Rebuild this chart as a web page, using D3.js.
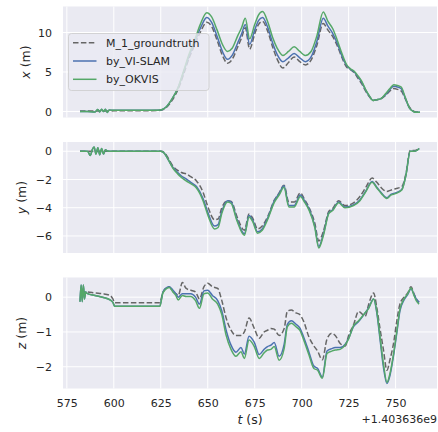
<!DOCTYPE html>
<html>
<head>
<meta charset="utf-8">
<script src="https://cdn.jsdelivr.net/npm/d3@7"></script>
<style>
  body { margin: 0; background: #fff; }
  svg text { font-family: "DejaVu Sans", sans-serif; fill: #262626; }
</style>
</head>
<body>
<div class="chart"></div>
<script>
// time offsets (s), added to 1.403636e9
const tX = [582, 586, 590, 591.5, 592.5, 593.5, 594.5, 595.5, 596.5, 597.5,
  600, 610, 620, 625, 628, 631, 634, 637, 640, 643, 646,
  649.5, 652, 655, 658, 660.5, 663, 666, 668, 670, 672.3,
  675, 677, 679.2, 682, 684.5, 687, 690, 693, 696, 699,
  702, 705, 708, 711.5, 714, 716.5, 719, 721.5, 724, 726,
  728, 730, 732, 734, 736, 738, 740, 742, 744.5, 747,
  749, 751, 753, 755, 757.5, 759.5, 761, 763];
const xGt = [0.05, 0.05, 0.05, 0.05, 0.05, 0.05, 0.05, 0.05, 0.05, 0.05,
  0.1, 0.1, 0.1, 0.15, 0.5, 1.4, 2.7, 4.6, 6.7, 8.4, 10.0,
  11.3, 10.8, 9.0, 7.0, 6.1, 6.6, 8.2, 9.3, 10.6, 7.9,
  9.8, 11.0, 11.4, 10.1, 8.2, 6.6, 5.5, 6.2, 6.9, 6.3,
  5.9, 6.5, 8.3, 11.15, 10.3, 9.5, 8.3, 6.8, 5.6, 5.3,
  4.9, 4.2, 3.5, 2.6, 1.9, 1.4, 1.5, 1.6, 2.0, 2.6,
  2.9, 2.8, 2.6, 1.7, 0.5, 0.05, -0.05, -0.05];
const xVi = [0.0, 0.0, -0.05, 0.25, -0.05, 0.3, 0.0, 0.3, -0.12, 0.2,
  0.15, 0.15, 0.15, 0.2, 0.6, 1.6, 2.9, 4.9, 7.0, 8.7, 10.5,
  11.9, 11.3, 9.5, 7.5, 6.6, 7.1, 8.7, 9.8, 11.0, 8.5,
  10.3, 11.5, 11.9, 10.6, 8.7, 7.2, 6.3, 6.8, 7.35, 6.8,
  6.3, 6.9, 8.8, 11.8, 10.8, 9.9, 8.6, 7.0, 5.8, 5.35,
  5.0, 4.4, 3.7, 2.75, 1.95, 1.4, 1.5, 1.6, 2.1, 2.8,
  3.2, 3.1, 2.9, 1.8, 0.4, 0.0, -0.1, -0.1];
const xOk = [0.0, 0.0, -0.05, 0.25, -0.05, 0.3, 0.0, 0.3, -0.12, 0.2,
  0.15, 0.15, 0.15, 0.2, 0.6, 1.6, 2.9, 5.0, 7.2, 9.0, 11.0,
  12.5, 12.0, 10.3, 8.4, 7.6, 8.0, 9.6, 10.6, 11.8, 9.2,
  11.0, 12.2, 12.65, 11.3, 9.4, 8.0, 7.1, 7.6, 8.2, 7.6,
  7.1, 7.6, 9.5, 12.6, 11.4, 10.5, 9.0, 7.3, 5.9, 5.4,
  5.1, 4.5, 3.8, 2.8, 2.0, 1.4, 1.5, 1.6, 2.2, 2.9,
  3.4, 3.3, 3.1, 1.9, 0.4, 0.0, -0.1, -0.1];

const tY = [582, 586, 587.5, 588.5, 589.5, 590.5, 591.5, 592.5, 593.5, 594.5,
  595.5, 597, 600, 610, 620, 625, 627, 629, 631.5, 634,
  636, 638.5, 641, 644, 647.5, 650, 653.6, 655.5, 657.5, 660.5,
  662.5, 665.5, 669.5, 672, 674, 676.5, 679, 682, 685.5, 688,
  690.6, 693.2, 696, 699.3, 701.5, 704, 707, 709.1, 711.5, 714.5,
  716.5, 719.7, 723, 727.6, 731, 734, 737.5, 740, 742.5, 745.3,
  747.5, 750, 753.3, 755.5, 757.8, 760.3, 762.6];
const yGt = [0, 0, 0, 0, 0, 0, 0, 0, 0, 0,
  0, 0, 0, 0, 0, 0, -0.1, -0.5, -1.05, -1.35,
  -1.5, -1.6, -1.8, -2.1, -2.9, -3.9, -4.85, -4.8, -4.0, -3.5,
  -3.55, -4.6, -5.6, -4.45, -4.75, -5.5, -5.3, -4.6, -3.45, -2.95,
  -2.4, -3.6, -3.6, -2.95, -3.4, -4.0, -5.1, -6.35, -5.7, -4.25,
  -4.05, -3.5, -3.85, -3.65, -3.2, -2.6, -1.9, -2.2, -2.6, -2.85,
  -2.75, -2.65, -2.5, -1.6, 0.05, 0.05, 0.22];
const yVi = [0.0, 0.0, -0.3, 0.1, 0.3, -0.2, 0.25, -0.25, 0.2, -0.2,
  0.1, 0.0, 0.0, 0.0, 0.0, 0.0, -0.15, -0.6, -1.15, -1.5,
  -1.75, -1.95, -2.2, -2.5, -3.35, -4.3, -5.3, -5.2, -4.25, -3.5,
  -3.6, -4.8, -5.85, -4.55, -4.9, -5.7, -5.5, -4.7, -3.5, -3.0,
  -2.45, -3.85, -3.85, -3.1, -3.5, -4.1, -5.3, -6.75, -5.9, -4.35,
  -4.15, -3.6, -3.95, -3.8, -3.45, -2.85, -2.15, -2.55, -2.95, -3.3,
  -3.05, -2.95, -2.7, -1.7, 0.0, 0.0, 0.2];
const yOk = [0.0, 0.0, -0.3, 0.1, 0.3, -0.2, 0.25, -0.25, 0.2, -0.2,
  0.1, 0.0, 0.0, 0.0, 0.0, 0.0, -0.15, -0.6, -1.2, -1.6,
  -1.85, -2.1, -2.3, -2.6, -3.5, -4.5, -5.5, -5.4, -4.4, -3.6,
  -3.7, -4.9, -5.95, -4.65, -5.0, -5.8, -5.6, -4.8, -3.6, -3.1,
  -2.55, -3.95, -3.95, -3.2, -3.6, -4.2, -5.4, -6.85, -6.0, -4.4,
  -4.2, -3.65, -4.0, -3.85, -3.5, -2.9, -2.2, -2.6, -3.0, -3.35,
  -3.1, -3.0, -2.75, -1.7, 0.0, 0.0, 0.2];

const tZ = [582, 582.6, 583.2, 583.8, 584.4, 585, 586, 590, 594, 598,
  599.5, 600.5, 610, 620, 624.5, 626, 627.5, 629.5, 631.5, 633,
  634.3, 636.5, 638.5, 641, 643.5, 645.6, 648, 650, 652.5, 655.3,
  657.5, 659.8, 662.4, 665, 667.7, 669.5, 672, 674.8, 677.4, 680,
  681.8, 683.6, 685.4, 688, 690.7, 692.4, 694.5, 697, 699, 701.1,
  703.9, 706.5, 708.5, 711, 713.5, 716, 717.9, 720.5, 723.2, 725,
  727.6, 730.3, 733.8, 735.7, 738.3, 740, 741.7, 743.5, 745.4, 747,
  749, 750.6, 752.3, 754.5, 756.5, 758.2, 759.8, 761, 762.5];
const zGt = [0.15, 0.15, 0.15, 0.15, 0.15, 0.15, 0.15, 0.12, 0.1, 0.05,
  -0.05, -0.16, -0.16, -0.16, -0.16, 0.12, 0.25, 0.3, 0.15, 0.1,
  0.05, 0.42, 0.25, 0.2, 0.15, -0.05, 0.3, 0.4, 0.3, 0.25,
  -0.1, -0.6, -0.95, -1.1, -1.1, -1.0, -0.6, -0.9, -1.18, -1.0,
  -0.95, -0.9, -0.92, -1.1, -0.9, -0.4, -0.37, -0.45, -0.5, -0.7,
  -1.15, -1.4, -1.55, -1.8, -1.2, -1.04, -1.1, -1.33, -1.4, -1.1,
  -0.8, -0.41, -0.55, -0.2, 0.12, -0.3, -0.9, -1.5, -2.1, -1.8,
  -1.3, -0.7, -0.2, 0.0, 0.12, 0.3, 0.1, -0.05, -0.15];
const zVi = [-0.13, 0.35, -0.13, 0.35, -0.05, 0.15, 0.1, 0.05, 0.0, -0.08,
  -0.15, -0.26, -0.26, -0.26, -0.26, 0.12, 0.25, 0.3, 0.2, 0.1,
  0.0, 0.1, 0.1, 0.1, 0.0, -0.2, 0.18, 0.2, 0.05, -0.1,
  -0.4, -0.95, -1.38, -1.58, -1.45, -1.63, -1.12, -1.3, -1.65, -1.5,
  -1.42, -1.38, -1.3, -1.7, -1.35, -0.78, -0.68, -0.78, -0.88, -1.15,
  -1.58, -1.98, -2.05, -2.3, -1.55, -1.48, -1.45, -1.45, -1.35, -1.18,
  -0.85, -0.7, -0.45, -0.3, -0.05, -0.45, -1.2, -2.0, -2.48, -2.25,
  -1.65, -1.05, -0.4, -0.08, 0.08, 0.24, 0.08, -0.05, -0.15];
const zOk = [-0.13, 0.35, -0.13, 0.35, -0.05, 0.15, 0.1, 0.05, 0.0, -0.08,
  -0.15, -0.26, -0.26, -0.26, -0.26, 0.1, 0.22, 0.28, 0.15, 0.05,
  -0.08, 0.05, 0.02, 0.02, -0.1, -0.32, 0.1, 0.12, -0.05, -0.2,
  -0.5, -1.1, -1.5, -1.7, -1.57, -1.76, -1.23, -1.42, -1.76, -1.6,
  -1.52, -1.5, -1.42, -1.81, -1.47, -0.85, -0.75, -0.85, -0.95, -1.23,
  -1.66, -2.05, -2.1, -2.33, -1.62, -1.55, -1.52, -1.5, -1.37, -1.2,
  -0.82, -0.68, -0.45, -0.32, -0.05, -0.4, -1.13, -1.9, -2.45, -2.2,
  -1.6, -1.0, -0.35, -0.05, 0.1, 0.26, 0.05, -0.1, -0.2];

const seriesNames = ["M_1_groundtruth", "by_VI-SLAM", "by_OKVIS"];
const xTicks = [575, 600, 625, 650, 675, 700, 725, 750];
const OFFSET_LABEL = "+1.403636e9";

const panels = [
  { axis: "x", t: tX, values: [xGt, xVi, xOk], ticks: [0, 5, 10] },
  { axis: "y", t: tY, values: [yGt, yVi, yOk], ticks: [-6, -4, -2, 0] },
  { axis: "z", t: tZ, values: [zGt, zVi, zOk], ticks: [-2, -1, 0] },
];

const WIDTH = 438;
const HEIGHT = 432;
const PLOT_LEFT = 63;
const PLOT_RIGHT = 437;
const PANEL_TOPS = [6.5, 142, 277.5];
const PANEL_HEIGHT = 111;
const BG = "#eaeaf2";
const COLORS = ["#666666", "#4c72b0", "#55a868"];

// matplotlib-style 5% margins
const padExtent = (lo, hi) => {
  const m = (hi - lo) * 0.05;
  return [lo - m, hi + m];
};

const allT = [].concat(tX, tY, tZ);
const xScale = d3.scaleLinear()
  .domain(padExtent(d3.min(allT), d3.max(allT)))
  .range([PLOT_LEFT, PLOT_RIGHT]);

const fmt = d3.format("d");

const svg = d3.select(".chart").append("svg")
  .attr("width", WIDTH)
  .attr("height", HEIGHT);

panels.forEach((p, pi) => {
  const top = PANEL_TOPS[pi];
  const bottom = top + PANEL_HEIGHT;
  const all = [].concat(...p.values);
  const yScale = d3.scaleLinear()
    .domain(padExtent(d3.min(all), d3.max(all)))
    .range([bottom, top]);

  const g = svg.append("g");

  g.append("rect")
    .attr("x", PLOT_LEFT).attr("y", top)
    .attr("width", PLOT_RIGHT - PLOT_LEFT).attr("height", PANEL_HEIGHT)
    .attr("fill", BG);

  // grid
  g.append("g").selectAll("line").data(xTicks).join("line")
    .attr("x1", d => xScale(d)).attr("x2", d => xScale(d))
    .attr("y1", top).attr("y2", bottom)
    .attr("stroke", "#fff").attr("stroke-width", 1);
  g.append("g").selectAll("line").data(p.ticks).join("line")
    .attr("x1", PLOT_LEFT).attr("x2", PLOT_RIGHT)
    .attr("y1", d => yScale(d)).attr("y2", d => yScale(d))
    .attr("stroke", "#fff").attr("stroke-width", 1);

  const clipId = "clip" + pi;
  svg.append("clipPath").attr("id", clipId).append("rect")
    .attr("x", PLOT_LEFT).attr("y", top)
    .attr("width", PLOT_RIGHT - PLOT_LEFT).attr("height", PANEL_HEIGHT);

  const line = d3.line()
    .defined(d => d[1] != null)
    .curve(d3.curveMonotoneX)
    .x(d => xScale(d[0]))
    .y(d => yScale(d[1]));

  const lines = g.append("g").attr("clip-path", `url(#${clipId})`);
  p.values.forEach((vals, si) => {
    lines.append("path")
      .datum(p.t.map((t, i) => [t, vals[i]]))
      .attr("d", line)
      .attr("fill", "none")
      .attr("stroke", COLORS[si])
      .attr("stroke-width", 1.5)
      .attr("stroke-linejoin", "round")
      .attr("stroke-dasharray", si === 0 ? "5.5,2.4" : null);
  });

  // y axis (no ticks, no spine)
  const yAxis = g.append("g")
    .attr("transform", `translate(${PLOT_LEFT},0)`)
    .call(d3.axisLeft(yScale).tickValues(p.ticks).tickSize(0).tickPadding(11).tickFormat(fmt));
  yAxis.select(".domain").remove();
  yAxis.selectAll("text")
    .style("font-size", "11px")
    .style("font-family", "DejaVu Sans")
    .attr("fill", "#262626");

  // y label
  const lbl = g.append("text")
    .attr("transform", `translate(${pi === 0 ? 29.5 : 26},${(top + bottom) / 2}) rotate(-90)`)
    .attr("text-anchor", "middle")
    .style("font-size", "12.5px");
  lbl.append("tspan").style("font-style", "italic").text(p.axis);
  lbl.append("tspan").text(" (m)");

  if (pi === panels.length - 1) {
    const xAxis = g.append("g")
      .attr("transform", `translate(0,${bottom})`)
      .call(d3.axisBottom(xScale).tickValues(xTicks).tickSize(0).tickPadding(11).tickFormat(fmt));
    xAxis.select(".domain").remove();
    xAxis.selectAll("text")
      .style("font-size", "11px")
      .style("font-family", "DejaVu Sans")
      .attr("fill", "#262626");

    const xl = svg.append("text")
      .attr("x", (PLOT_LEFT + PLOT_RIGHT) / 2)
      .attr("y", 424)
      .attr("text-anchor", "middle")
      .style("font-size", "12.5px");
    xl.append("tspan").style("font-style", "italic").text("t");
    xl.append("tspan").text(" (s)");

    svg.append("text")
      .attr("x", PLOT_RIGHT)
      .attr("y", 422.5)
      .attr("text-anchor", "end")
      .style("font-size", "11px")
      .text(OFFSET_LABEL);
  }

  if (pi === 0) {
    const legend = g.append("g");
    legend.append("rect")
      .attr("x", 68.5).attr("y", 33.5)
      .attr("width", 140.5).attr("height", 57)
      .attr("rx", 3)
      .attr("fill", BG).attr("fill-opacity", 0.8)
      .attr("stroke", "#cccccc").attr("stroke-width", 0.8);
    const rowY = [42.7, 61, 79.3];
    seriesNames.forEach((name, si) => {
      legend.append("line")
        .attr("x1", 73).attr("x2", 96.5)
        .attr("y1", rowY[si]).attr("y2", rowY[si])
        .attr("stroke", COLORS[si]).attr("stroke-width", 1.5)
        .attr("stroke-dasharray", si === 0 ? "5.5,2.4" : null);
      legend.append("text")
        .attr("x", 106).attr("y", rowY[si])
        .attr("dy", "0.36em")
        .style("font-size", "11px")
        .text(name);
    });
  }
});
</script>
</body>
</html>
